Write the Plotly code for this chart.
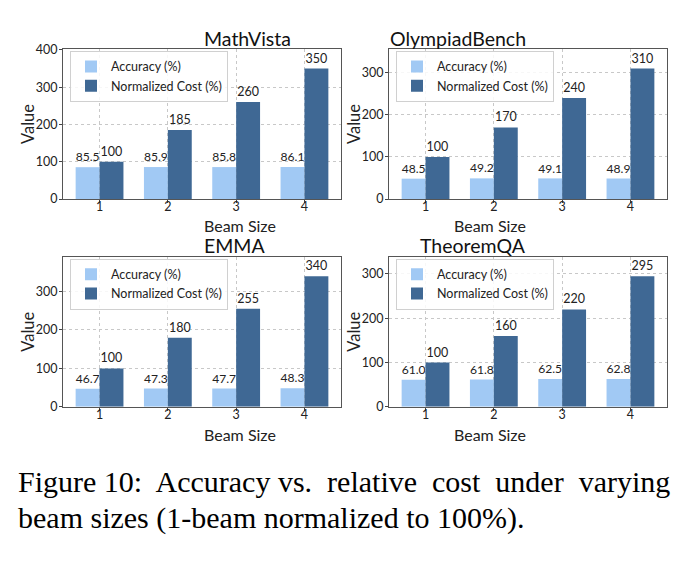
import plotly.graph_objects as go

beam_sizes = [1, 2, 3, 4]
titles = ["MathVista", "OlympiadBench", "EMMA", "TheoremQA"]
acc_mathvista = [85.5, 85.9, 85.8, 86.1]
cost_mathvista = [100, 185, 260, 350]
acc_olympiad = [48.5, 49.2, 49.1, 48.9]
cost_olympiad = [100, 170, 240, 310]
acc_emma = [46.7, 47.3, 47.7, 48.3]
cost_emma = [100, 180, 255, 340]
acc_theorem = [61.0, 61.8, 62.5, 62.8]
cost_theorem = [100, 160, 220, 295]

panels = [
    (acc_mathvista, cost_mathvista),
    (acc_olympiad, cost_olympiad),
    (acc_emma, cost_emma),
    (acc_theorem, cost_theorem),
]

W, H = 689, 562
FONT = "Lato"
ACC_COLOR = "#a1c9f4"
COST_COLOR = "#3f6894"

def px_x(p):
    return p / W

def px_y(p):
    return 1 - p / H

col_dom = [(63, 341), (389, 667)]
row_dom = [(43, 197), (256, 410)]
value_label_x = [28, 354]
beam_label_y = [224, 438]

fig = go.Figure()
axis_layout = {}
annotations = []
for i, (acc, cost) in enumerate(panels):
    r, c = divmod(i, 2)
    n = i + 1
    xa = "x" if n == 1 else f"x{n}"
    ya = "y" if n == 1 else f"y{n}"
    leg = "legend" if n == 1 else f"legend{n}"
    fig.add_trace(go.Bar(
        x=beam_sizes, y=acc, name="Accuracy (%)", marker_color=ACC_COLOR,
        marker_line_width=0, xaxis=xa, yaxis=ya, legend=leg,
        offsetgroup="a", text=[f"{v:.1f}" for v in acc], textposition="outside",
        textfont=dict(family=FONT, size=12.5, color="#222"), cliponaxis=False,
    ))
    fig.add_trace(go.Bar(
        x=beam_sizes, y=cost, name="Normalized Cost (%)", marker_color=COST_COLOR,
        marker_line_width=0, xaxis=xa, yaxis=ya, legend=leg,
        offsetgroup="b", text=[f"{v:d}" for v in cost], textposition="outside",
        textfont=dict(family=FONT, size=12.5, color="#222"), cliponaxis=False,
    ))
    x0, x1 = col_dom[c]
    y0, y1 = row_dom[r]
    xkey = "xaxis" if n == 1 else f"xaxis{n}"
    ykey = "yaxis" if n == 1 else f"yaxis{n}"
    axis_layout[xkey] = dict(
        domain=[px_x(x0), px_x(x1)], anchor=ya, range=[0.465, 4.535],
        tickvals=beam_sizes, ticks="outside", ticklen=3, tickcolor="#444",
        ticklabelstandoff=-7,
        showgrid=True, gridcolor="#c8c8c8", griddash="dot", gridwidth=1,
        showline=True, linecolor="#555", linewidth=1, mirror=True,
        tickfont=dict(family=FONT, size=12.5, color="#222"),
        zeroline=False,
    )
    axis_layout[ykey] = dict(
        domain=[px_y(y1), px_y(y0)], anchor=xa, range=[0, max(cost) * 1.15],
        dtick=100, ticks="outside", ticklen=3, tickcolor="#444",
        ticklabelstandoff=-1,
        showgrid=True, gridcolor="#c8c8c8", griddash="dot", gridwidth=1,
        showline=True, linecolor="#555", linewidth=1, mirror=True,
        tickfont=dict(family=FONT, size=12.5, color="#222"),
        zeroline=False,
    )
    axis_layout[leg] = dict(
        x=px_x(x0 + 7), y=px_y(y0 + 2), xanchor="left", yanchor="top",
        bgcolor="rgba(255,255,255,0.85)", bordercolor="#d0d0d0", borderwidth=1,
        font=dict(family=FONT, size=12.5, color="#222"), tracegroupgap=0,
    )
    annotations.append(dict(
        text=titles[i], x=px_x((x0 + x1) / 2), y=px_y(y0 - 11), xref="paper", yref="paper",
        showarrow=False, font=dict(family=FONT, size=19.5, color="#111"), yanchor="middle",
    ))
    annotations.append(dict(
        text="Beam Size", x=px_x((x0 + x1) / 2), y=px_y(beam_label_y[r]), xref="paper", yref="paper",
        showarrow=False, font=dict(family=FONT, size=16, color="#222"), yanchor="middle",
    ))
    annotations.append(dict(
        text="Value", x=px_x(value_label_x[c]), y=px_y((y0 + y1) / 2), xref="paper", yref="paper",
        showarrow=False, font=dict(family=FONT, size=16.5, color="#222"), textangle=-90,
        xanchor="center", yanchor="middle",
    ))

annotations.append(dict(
    text="Figure 10:  Accuracy vs.  relative  cost  under  varying", x=px_x(16), y=px_y(487),
    xref="paper", yref="paper", xanchor="left", yanchor="middle", showarrow=False,
    font=dict(family="Liberation Serif", size=30, color="#000"),
))
annotations.append(dict(
    text="beam sizes (1-beam normalized to 100%).", x=px_x(16), y=px_y(524),
    xref="paper", yref="paper", xanchor="left", yanchor="middle", showarrow=False,
    font=dict(family="Liberation Serif", size=30, color="#000"),
))

fig.update_layout(
    width=W, height=H, margin=dict(l=0, r=0, t=0, b=0),
    plot_bgcolor="white", paper_bgcolor="white",
    barmode="group", bargap=0.3, bargroupgap=0,
    annotations=annotations, font=dict(family=FONT),
    **axis_layout,
)

fig.write_html("out.html")
